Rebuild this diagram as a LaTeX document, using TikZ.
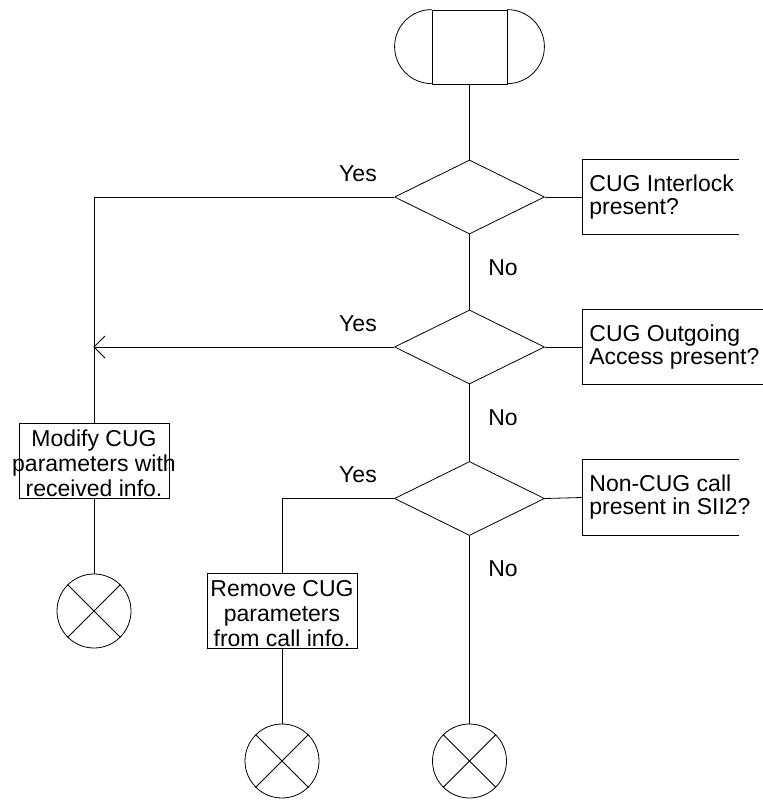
\documentclass[tikz,border=0pt]{standalone}
\usepackage{fontspec}
\setmainfont{Liberation Sans}
\usetikzlibrary{shapes.geometric,calc}
\begin{document}
\begin{tikzpicture}[x=1pt,y=-1pt, line width=0.8pt,
  every node/.style={font=\fontsize{23}{24}\selectfont},
  dec/.style={draw, shape=diamond, minimum width=150pt, minimum height=74pt, inner sep=0pt, aspect=2},
  proc/.style={draw, minimum width=150pt, minimum height=75pt, inner sep=0pt},
  ptext/.style={align=center, inner sep=0pt, font=\fontsize{23}{25}\selectfont},
  cbox/.style={minimum height=74pt, inner sep=0pt, anchor=west},
  ctext/.style={align=left, inner sep=0pt, anchor=west, font=\fontsize{23}{23}\selectfont},
  stopc/.style={draw, circle, minimum size=74pt, inner sep=0pt},
  lbl/.style={anchor=base, inner sep=0pt}
]
\useasboundingbox (0,0) rectangle (763,801);

% start terminator
\node[draw, minimum width=75pt, minimum height=74pt, inner sep=0pt] (start) at (469.5,47) {};
\draw (start.north west) arc[start angle=90, end angle=270, radius=37pt];
\draw (start.north east) arc[start angle=90, end angle=-90, radius=37pt];

% decisions
\node[dec] (d1) at (469.5,197) {};
\node[dec] (d2) at (469.5,347) {};
\node[dec] (d3) at (469.5,498.5) {};

% comment boxes
\node[cbox, minimum width=156pt] (c1) at (582,197) {};
\draw (c1.north east) -- (c1.north west) -- (c1.south west) -- (c1.south east);
\node[ctext] (c1t) at (589,197) {CUG Interlock\\present?};

\node[cbox, minimum width=181pt] (c2) at (582,347) {};
\draw (c2.north east) -- (c2.north west) -- (c2.south west) -- (c2.south east);
\node[ctext] (c2t) at (589,347) {CUG Outgoing\\Access present?};

\node[cbox, minimum width=156pt, minimum height=75pt] (c3) at (582,497.5) {};
\draw (c3.north east) -- (c3.north west) -- (c3.south west) -- (c3.south east);
\node[ctext] (c3t) at (589,497.5) {Non-CUG call\\present in SII2?};

% process boxes
\node[proc] (mod) at (94,460.5) {};
\node[ptext] (modt) at (94,463.5) {Modify CUG\\parameters with\\received info.};
\node[proc] (rem) at (282,610.5) {};
\node[ptext] (remt) at (282,613.5) {Remove CUG\\parameters\\from call info.};

% stop symbols
\node[stopc] (e1) at (94,611) {};
\node[stopc] (e2) at (282,761) {};
\node[stopc] (e3) at (469.5,761) {};
\foreach \e in {e1,e2,e3}{
  \draw (\e.north west) -- (\e.south east) (\e.north east) -- (\e.south west);
}

% connectors
\draw (start.south) -- (d1.north);
\draw (d1.east) -- (c1.west);
\draw (d1.south) -- (d2.north);
\draw (d2.east) -- (c2.west);
\draw (d2.south) -- (d3.north);
\draw (d3.east) -- (c3.west);
\draw (d1.west) -| (mod.north);
\coordinate (j2) at (94,347);
\draw (d2.west) -- (j2);
\draw ($(j2)+(11,-11)$) -- (j2) -- ($(j2)+(11,11)$);
\draw (d3.west) -| (rem.north);
\draw (mod.south) -- (e1.north);
\draw (rem.south) -- (e2.north);
\draw (d3.south) -- (e3.north);

% labels
\node[lbl] (y1) at (358,181) {Yes};
\node[lbl] (y2) at (358,331) {Yes};
\node[lbl] (y3) at (358,482) {Yes};
\node[lbl] (n1) at (503,275) {No};
\node[lbl] (n2) at (503,425) {No};
\node[lbl] (n3) at (503,576) {No};
\end{tikzpicture}
\end{document}
